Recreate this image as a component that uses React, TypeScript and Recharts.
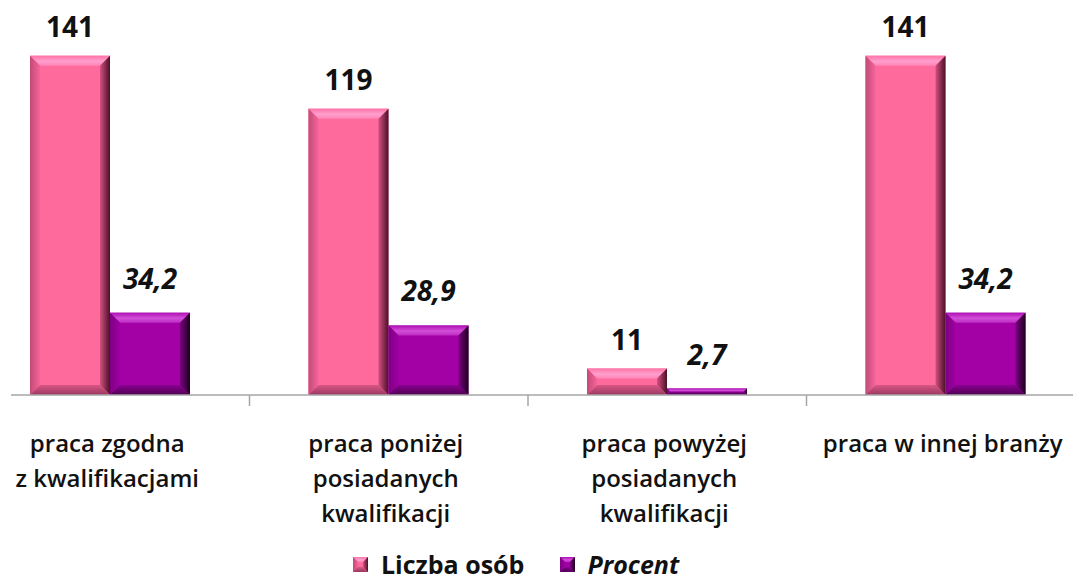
import React from 'react';
import { BarChart, Bar, XAxis, YAxis, LabelList, Legend } from 'recharts';

// ---- data ----
const categories = [
  'praca zgodna z kwalifikacjami',
  'praca poniżej posiadanych kwalifikacji',
  'praca powyżej posiadanych kwalifikacji',
  'praca w innej branży',
];
const categoryLines = [
  ['praca zgodna', 'z kwalifikacjami'],
  ['praca poniżej', 'posiadanych', 'kwalifikacji'],
  ['praca powyżej', 'posiadanych', 'kwalifikacji'],
  ['praca w innej branży'],
];
const liczbaOsob = [141, 119, 11, 141];
const procent = [34.2, 28.9, 2.7, 34.2];
const seriesNames = ['Liczba osób', 'Procent'];

const data = categories.map((c, i) => ({ name: c, liczba: liczbaOsob[i], procent: procent[i] }));

// ---- layout ----
const CHART_W = 1114;
const CHART_H = 583;
const BAND = CHART_W / categories.length;
const FONT = '"Open Sans", "Noto Sans", sans-serif';
const AXIS_COLOR = '#A6A6A6';

type Pal = { main: string; top: [string, string, string]; left: [string, string]; right: [string, string]; bottom: [string, string] };
const PINK: Pal = {
  main: '#FF6A9D',
  top: ['#FF73A6', '#FF9FCD', '#FF86B6'],
  left: ['#C24A77', '#F5659A'],
  right: ['#D2507F', '#4A1028'],
  bottom: ['#D85685', '#9A3862'],
};
const PURPLE: Pal = {
  main: '#A300A6',
  top: ['#AE10B2', '#D24ED8', '#BE2CC4'],
  left: ['#7E0082', '#9E00A2'],
  right: ['#7A0080', '#1E001E'],
  bottom: ['#880090', '#4E0052'],
};

const Defs = ({ id, p }: { id: string; p: Pal }) => (
  <defs>
    <linearGradient id={`${id}-top`} x1="0" y1="0" x2="0" y2="1">
      <stop offset="0%" stopColor={p.top[0]} />
      <stop offset="55%" stopColor={p.top[1]} />
      <stop offset="100%" stopColor={p.top[2]} />
    </linearGradient>
    <linearGradient id={`${id}-left`} x1="0" y1="0" x2="1" y2="0">
      <stop offset="0%" stopColor={p.left[0]} />
      <stop offset="100%" stopColor={p.left[1]} />
    </linearGradient>
    <linearGradient id={`${id}-right`} x1="0" y1="0" x2="1" y2="0">
      <stop offset="0%" stopColor={p.right[0]} />
      <stop offset="100%" stopColor={p.right[1]} />
    </linearGradient>
    <linearGradient id={`${id}-bottom`} x1="0" y1="0" x2="0" y2="1">
      <stop offset="0%" stopColor={p.bottom[0]} />
      <stop offset="100%" stopColor={p.bottom[1]} />
    </linearGradient>
  </defs>
);

const bevelShapes = (id: string, p: Pal, x: number, y: number, w: number, h: number, maxB: number) => {
  const b = Math.max(0, Math.min(maxB, h / 2, w / 2));
  return (
    <g>
      <rect x={x} y={y} width={w} height={h} fill={p.main} />
      <polygon points={`${x},${y} ${x + w},${y} ${x + w - b},${y + b} ${x + b},${y + b}`} fill={`url(#${id}-top)`} />
      <polygon points={`${x},${y} ${x + b},${y + b} ${x + b},${y + h - b} ${x},${y + h}`} fill={`url(#${id}-left)`} />
      <polygon points={`${x + w},${y} ${x + w},${y + h} ${x + w - b},${y + h - b} ${x + w - b},${y + b}`} fill={`url(#${id}-right)`} />
      <polygon points={`${x},${y + h} ${x + b},${y + h - b} ${x + w - b},${y + h - b} ${x + w},${y + h}`} fill={`url(#${id}-bottom)`} />
    </g>
  );
};

const makeBar = (id: string, p: Pal) => (props: any) => {
  const { x, y, width, height } = props;
  if (!height || height <= 0) return <g />;
  return bevelShapes(id, p, x, y, width, height, 10);
};

const makeLabel = (gap: number, italic: boolean) => (props: any) => {
  const { x, y, width, value } = props;
  const txt = String(value).replace('.', ',');
  return (
    <text
      x={Number(x) + Number(width) / 2}
      y={Number(y) - gap}
      textAnchor="middle"
      fontFamily={FONT}
      fontSize={28}
      fontWeight={700}
      fontStyle={italic ? 'italic' : 'normal'}
      fill="#111"
    >
      {txt}
    </text>
  );
};

const CategoryTick = (props: any) => {
  const { x, y, payload, index } = props;
  const idx = payload && typeof payload.index === 'number' ? payload.index : index;
  const lines = categoryLines[idx] || [];
  return (
    <g>
      {idx > 0 && (
        <line x1={x - BAND / 2} x2={x - BAND / 2} y1={y} y2={y + 11} stroke={AXIS_COLOR} strokeWidth={1.5} />
      )}
      <text x={x - 3} y={y + 57} textAnchor="middle" fontFamily={FONT} fontSize={24} fontWeight={600} fill="#111">
        {lines.map((l, i) => (
          <tspan key={i} x={x - 3} dy={i === 0 ? 0 : 35}>
            {l}
          </tspan>
        ))}
      </text>
    </g>
  );
};

const LegendIcon = ({ id, p }: { id: string; p: Pal }) => (
  <svg width={15} height={15} style={{ display: 'block' }}>
    <Defs id={id} p={p} />
    {bevelShapes(id, p, 0, 0, 15, 15, 5)}
  </svg>
);

const LegendContent = () => (
  <div
    style={{
      display: 'flex',
      alignItems: 'center',
      fontFamily: FONT,
      fontSize: 25,
      fontWeight: 700,
      lineHeight: '26px',
      height: 26,
      color: '#111',
      whiteSpace: 'nowrap',
    }}
  >
    <LegendIcon id="lg-pink" p={PINK} />
    <span style={{ marginLeft: 13 }}>{seriesNames[0]}</span>
    <span style={{ marginLeft: 36, display: 'inline-block' }}>
      <LegendIcon id="lg-purple" p={PURPLE} />
    </span>
    <span style={{ marginLeft: 12, fontStyle: 'italic' }}>{seriesNames[1]}</span>
  </div>
);

export default function App() {
  return (
    <div style={{ position: 'absolute', left: 11, top: 0, width: 1062, height: CHART_H, overflow: 'hidden' }}>
      <div style={{ marginLeft: -40, width: CHART_W, height: CHART_H }}>
        <BarChart
          width={CHART_W}
          height={CHART_H}
          data={data}
          margin={{ top: 10, right: 0, bottom: 0, left: 0 }}
          barCategoryGap={59}
          barGap={0}
        >
          <Defs id="pink" p={PINK} />
          <Defs id="purple" p={PURPLE} />
          <YAxis hide domain={[0, 160]} />
          <XAxis
            dataKey="name"
            height={188}
            interval={0}
            tickLine={false}
            tickSize={0}
            tickMargin={0}
            axisLine={{ stroke: AXIS_COLOR, strokeWidth: 1.5 }}
            tick={<CategoryTick />}
          />
          <Legend
            layout="horizontal"
            verticalAlign="middle"
            align="center"
            wrapperStyle={{ top: 551, left: 382, width: 380, height: 26 }}
            content={<LegendContent />}
          />
          <Bar dataKey="liczba" name={seriesNames[0]} fill={PINK.main} isAnimationActive={false} shape={makeBar('pink', PINK)}>
            <LabelList dataKey="liczba" content={makeLabel(19, false)} />
          </Bar>
          <Bar dataKey="procent" name={seriesNames[1]} fill={PURPLE.main} isAnimationActive={false} shape={makeBar('purple', PURPLE)}>
            <LabelList dataKey="procent" content={makeLabel(24, true)} />
          </Bar>
        </BarChart>
      </div>
    </div>
  );
}
